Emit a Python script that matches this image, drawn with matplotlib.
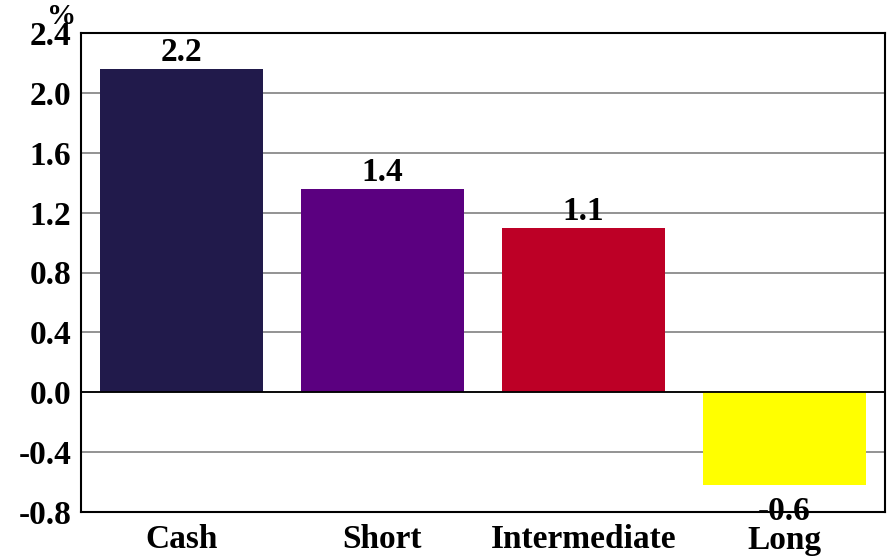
import numpy as np
import matplotlib.pyplot as plt

categories = ["Cash", "Short", "Intermediate", "Long"]
values = [2.16, 1.355, 1.095, -0.62]
labels = ["2.2", "1.4", "1.1", "-0.6"]
colors = ["#211a4b", "#5b0080", "#bd0026", "#ffff00"]
yticks = [-0.8, -0.4, 0.0, 0.4, 0.8, 1.2, 1.6, 2.0, 2.4]

plt.rcParams['font.family'] = ['Liberation Serif', 'DejaVu Serif']
plt.rcParams['font.weight'] = 'bold'

fig = plt.figure(figsize=(8.94, 5.58), dpi=100)
ax = fig.add_axes([81 / 894, 1 - 512 / 558, 804 / 894, 479 / 558])

x = np.arange(len(categories))
ax.set_axisbelow(True)
ax.yaxis.grid(True, color="#808080", linewidth=1.2)
ax.bar(x, values, width=0.81, color=colors, zorder=2)
ax.axhline(0, color="black", linewidth=1.3, zorder=3)

for xi, v, lab in zip(x, values, labels):
    if v >= 0:
        ax.annotate(lab, (xi, v), xytext=(0, 1), textcoords="offset points",
                    ha="center", va="bottom", fontsize=24, fontweight="bold")
    else:
        ax.annotate(lab, (xi, v), xytext=(0, -8), textcoords="offset points",
                    ha="center", va="top", fontsize=24, fontweight="bold")

ax.set_xlim(-0.5, 3.5)
ax.set_ylim(-0.8, 2.4)
ax.set_yticks(yticks)
ax.set_yticklabels([f"{t:.1f}" for t in yticks], fontsize=24, fontweight="bold")
ax.set_xticks(x)
ax.set_xticklabels(categories, fontsize=24, fontweight="bold")
ax.tick_params(length=0)
ax.tick_params(axis="y", pad=7)
ax.tick_params(axis="x", pad=9)
for s in ax.spines.values():
    s.set_linewidth(1.5)
    s.set_color("black")

fig.text(62 / 894, 1 - 17 / 558, "%", fontsize=21, fontweight="bold", ha="center", va="center")

fig.savefig("out.png", dpi=100)
